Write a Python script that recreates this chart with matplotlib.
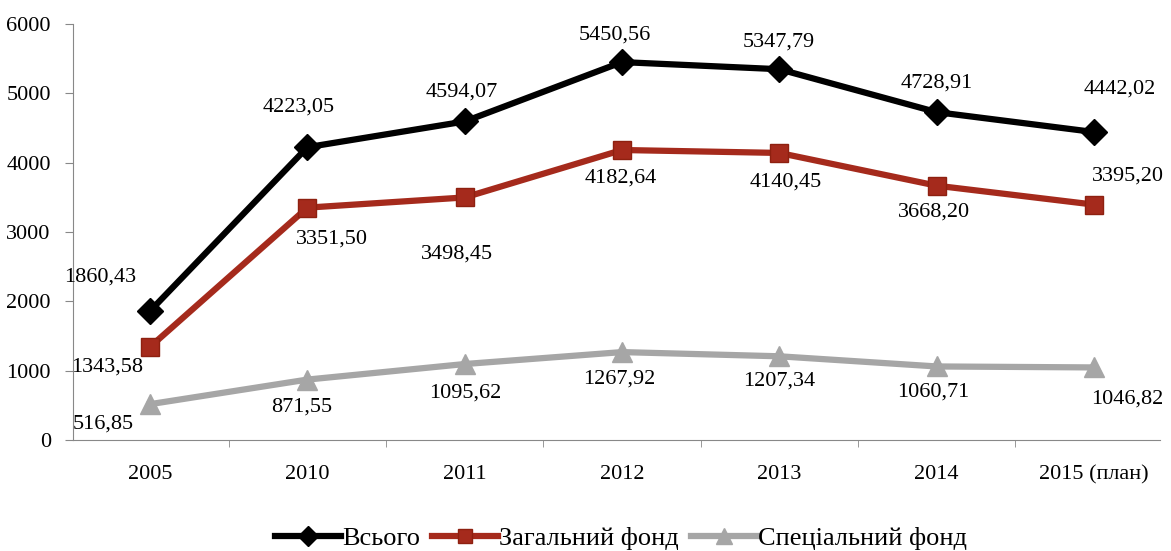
import matplotlib
matplotlib.use("Agg")
import matplotlib.pyplot as plt

plt.rcParams['font.family'] = ['Liberation Serif', 'DejaVu Serif']

# data
years = ["2005", "2010", "2011", "2012", "2013", "2014", "2015 (план)"]
total = [1860.43, 4223.05, 4594.07, 5450.56, 5347.79, 4728.91, 4442.02]
general = [1343.58, 3351.50, 3498.45, 4182.64, 4140.45, 3668.20, 3395.20]
special = [516.85, 871.55, 1095.62, 1267.92, 1207.34, 1060.71, 1046.82]
names = ["Всього", "Загальний фонд", "Спеціальний фонд"]

# label offsets in pixels (dx, dy), y up
off_total = [(-50, 34), (-9, 40), (-3, 29), (-7, 27), (-1, 27), (0, 29), (26, 43)]
off_general = [(-43, -20), (25, -31), (-8, -57), (-1, -28), (6, -29), (-3, -26), (34, 29)]
off_special = [(-47, -20), (-6, -27), (1, -29), (-3, -27), (0, -25), (-3, -26), (33, -32)]

fig = plt.figure(figsize=(11.71, 5.51), dpi=100)
ax = fig.add_axes([73 / 1171, 111 / 551, (1160 - 73) / 1171, 416 / 551])

x = list(range(len(years)))
ax.plot(x, total, color="black", lw=4.5, marker="D", ms=13, label=names[0], zorder=3)
ax.plot(x, general, color="#A52A1C", lw=4.5, marker="s", ms=13,
        markeredgecolor="#8E2010", label=names[1], zorder=3)
ax.plot(x, special, color="#A6A6A6", lw=4.5, marker="^", ms=15, label=names[2], zorder=3)


def fmt(v):
    return f"{v:.2f}".replace(".", ",")


for vals, offs in ((total, off_total), (general, off_general), (special, off_special)):
    for xi, v, (dx, dy) in zip(x, vals, offs):
        ax.annotate(fmt(v), (xi, v), xytext=(dx, dy), textcoords="offset pixels",
                    ha="center", va="center", fontsize=16)

ax.set_xlim(-0.49, 6.42)
ax.set_ylim(0, 6000)
ax.set_yticks(range(0, 6001, 1000))
ax.set_xticks(x)
ax.set_xticklabels(years, fontsize=16)
ax.set_xticks([i + 0.5 for i in range(6)], minor=True)
ax.tick_params(axis="x", which="major", length=0, pad=18)
ax.tick_params(axis="x", which="minor", length=5, color="#888888")
ax.tick_params(axis="y", length=6, color="#888888", labelsize=16, pad=10)
for s in ("top", "right"):
    ax.spines[s].set_visible(False)
ax.spines["left"].set_color("#888888")
ax.spines["bottom"].set_color("#888888")

fig.legend(loc="center", bbox_to_anchor=(621 / 1171, 1 - 538 / 551), ncol=3,
           frameon=False, fontsize=19, handlelength=2.5, handletextpad=0.05,
           columnspacing=0.45, markerscale=0.8)

fig.savefig("out.png", dpi=100)
